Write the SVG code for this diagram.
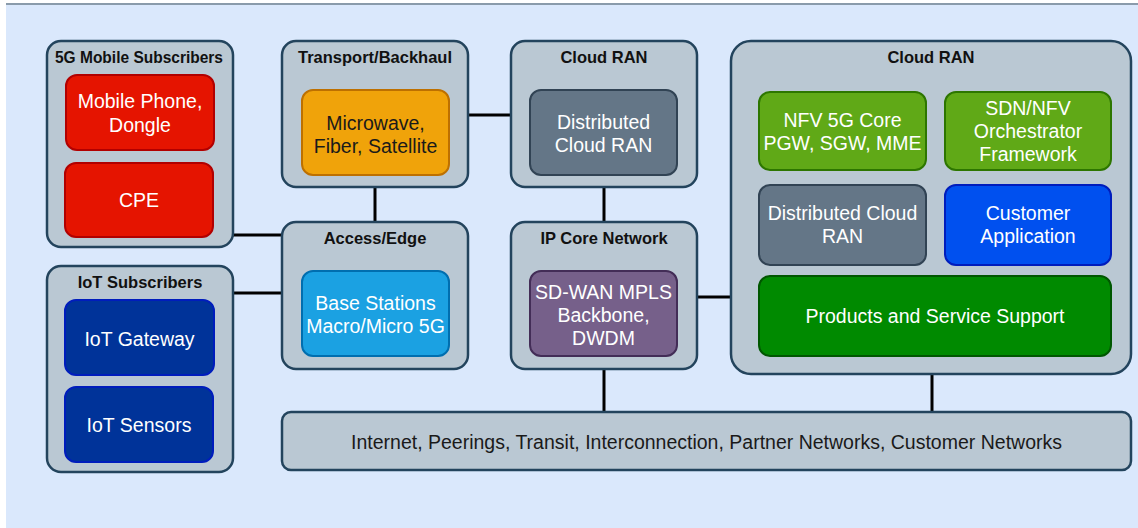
<svg xmlns="http://www.w3.org/2000/svg" width="1138" height="528" viewBox="0 0 1138 528">
<style>
.cont{fill:#bac8d3;stroke:#23445d;stroke-width:2.5}
.title{font-family:"Liberation Sans",Arial,sans-serif;font-weight:bold;font-size:16.5px;fill:#111;text-anchor:middle}
.lbl{font-family:"Liberation Sans",Arial,sans-serif;font-size:19.5px;fill:#fff;text-anchor:middle}
.dark{fill:#1a1a1a}
.conn{stroke:#000;stroke-width:3;fill:none}
</style>
<rect x="0" y="0" width="1138" height="528" fill="#ffffff"/>
<rect x="6" y="4" width="1132" height="524" fill="#dae8fc"/>
<line x1="6" y1="4" x2="1138" y2="4" stroke="#8a9bab" stroke-width="2"/>

<g id="connectors">
<line class="conn" x1="233" y1="235" x2="282" y2="235"/>
<line class="conn" x1="233" y1="293" x2="282" y2="293"/>
<line class="conn" x1="375" y1="187" x2="375" y2="222"/>
<line class="conn" x1="468" y1="115" x2="511" y2="115"/>
<line class="conn" x1="604" y1="187" x2="604" y2="222"/>
<line class="conn" x1="697" y1="297" x2="731" y2="297"/>
<line class="conn" x1="604" y1="369" x2="604" y2="412"/>
<line class="conn" x1="932" y1="374" x2="932" y2="412"/>
</g>

<g id="mobile-subscribers">
<rect class="cont" x="47" y="41" width="186" height="206" rx="14"/>
<text class="title" x="139" y="63" textLength="168" lengthAdjust="spacingAndGlyphs">5G Mobile Subscribers</text>
</g>
<g id="mobile-phone">
<rect x="66" y="75" width="148" height="75" rx="11" fill="#e51400" stroke="#b20000" stroke-width="2"/>
<text class="lbl" x="140" y="108">Mobile Phone,</text>
<text class="lbl" x="140" y="132">Dongle</text>
</g>
<g id="cpe">
<rect x="65" y="163" width="148" height="74" rx="11" fill="#e51400" stroke="#b20000" stroke-width="2"/>
<text class="lbl" x="139" y="207">CPE</text>
</g>

<g id="iot-subscribers">
<rect class="cont" x="47" y="266" width="186" height="206" rx="14"/>
<text class="title" x="140" y="288">IoT Subscribers</text>
</g>
<g id="iot-gateway">
<rect x="65" y="300" width="149" height="75" rx="11" fill="#003399" stroke="#001dbc" stroke-width="2"/>
<text class="lbl" x="139.5" y="346">IoT Gateway</text>
</g>
<g id="iot-sensors">
<rect x="65" y="387" width="148" height="75" rx="11" fill="#003399" stroke="#001dbc" stroke-width="2"/>
<text class="lbl" x="139" y="432">IoT Sensors</text>
</g>

<g id="transport">
<rect class="cont" x="282" y="41" width="186" height="146" rx="14"/>
<text class="title" x="375" y="63">Transport/Backhaul</text>
</g>
<g id="microwave">
<rect x="302" y="90" width="147" height="85" rx="11" fill="#f0a30a" stroke="#bd7000" stroke-width="2"/>
<text class="lbl dark" x="375.5" y="130">Microwave,</text>
<text class="lbl dark" x="375.5" y="153">Fiber, Satellite</text>
</g>

<g id="access-edge">
<rect class="cont" x="282" y="222" width="186" height="147" rx="14"/>
<text class="title" x="375" y="244">Access/Edge</text>
</g>
<g id="base-stations">
<rect x="302" y="271" width="147" height="85" rx="11" fill="#1ba1e2" stroke="#006eaf" stroke-width="2"/>
<text class="lbl" x="375.5" y="310">Base Stations</text>
<text class="lbl" x="375.5" y="333">Macro/Micro 5G</text>
</g>

<g id="cloud-ran-small">
<rect class="cont" x="511" y="41" width="186" height="146" rx="14"/>
<text class="title" x="604" y="63">Cloud RAN</text>
</g>
<g id="distributed-cloud-ran-small">
<rect x="530" y="90" width="147" height="85" rx="11" fill="#647687" stroke="#314354" stroke-width="2"/>
<text class="lbl" x="603.5" y="129">Distributed</text>
<text class="lbl" x="603.5" y="152">Cloud RAN</text>
</g>

<g id="ip-core">
<rect class="cont" x="511" y="222" width="186" height="147" rx="14"/>
<text class="title" x="604" y="244">IP Core Network</text>
</g>
<g id="sd-wan">
<rect x="530" y="271" width="147" height="85" rx="11" fill="#76608a" stroke="#432d57" stroke-width="2"/>
<text class="lbl" x="603.5" y="299">SD-WAN MPLS</text>
<text class="lbl" x="603.5" y="322">Backbone,</text>
<text class="lbl" x="603.5" y="345">DWDM</text>
</g>

<g id="cloud-ran-big">
<rect class="cont" x="731" y="41" width="400" height="333" rx="20"/>
<text class="title" x="931" y="63">Cloud RAN</text>
</g>
<g id="nfv-core">
<rect x="759" y="92" width="167" height="78" rx="11" fill="#60a917" stroke="#2d7600" stroke-width="2"/>
<text class="lbl" x="842.5" y="127">NFV 5G Core</text>
<text class="lbl" x="842.5" y="150">PGW, SGW, MME</text>
</g>
<g id="sdn-nfv">
<rect x="945" y="92" width="166" height="78" rx="11" fill="#60a917" stroke="#2d7600" stroke-width="2"/>
<text class="lbl" x="1028" y="115">SDN/NFV</text>
<text class="lbl" x="1028" y="138">Orchestrator</text>
<text class="lbl" x="1028" y="161">Framework</text>
</g>
<g id="distributed-cloud-ran-big">
<rect x="759" y="185" width="167" height="80" rx="11" fill="#647687" stroke="#314354" stroke-width="2"/>
<text class="lbl" x="842.5" y="220">Distributed Cloud</text>
<text class="lbl" x="842.5" y="243">RAN</text>
</g>
<g id="customer-application">
<rect x="945" y="185" width="166" height="80" rx="11" fill="#0050ef" stroke="#001dbc" stroke-width="2"/>
<text class="lbl" x="1028" y="220">Customer</text>
<text class="lbl" x="1028" y="243">Application</text>
</g>
<g id="products-support">
<rect x="759" y="276" width="352" height="80" rx="11" fill="#008a00" stroke="#005700" stroke-width="2"/>
<text class="lbl" x="935" y="323">Products and Service Support</text>
</g>

<g id="internet">
<rect class="cont" x="282" y="412" width="849" height="58" rx="9"/>
<text class="lbl dark" x="706.5" y="449">Internet, Peerings, Transit, Interconnection, Partner Networks, Customer Networks</text>
</g>
</svg>
